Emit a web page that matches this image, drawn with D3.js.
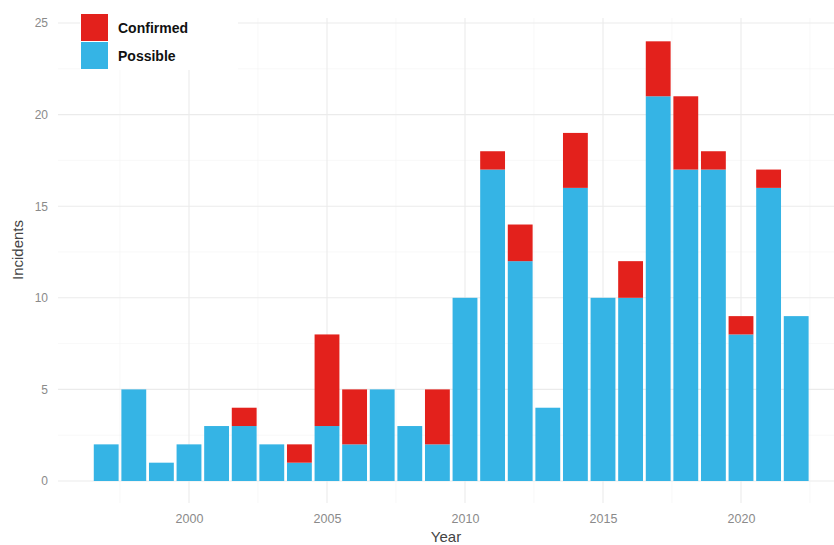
<!DOCTYPE html>
<html><head><meta charset="utf-8">
<script src="https://cdn.jsdelivr.net/npm/d3@7"></script>
<style>body{margin:0;background:#fff;}svg{display:block;font-family:"Liberation Sans",Arial,sans-serif;}</style>
</head><body><svg id="c" width="834" height="545"></svg>
<script>
const years = [1997,1998,1999,2000,2001,2002,2003,2004,2005,2006,2007,2008,2009,2010,2011,2012,2013,2014,2015,2016,2017,2018,2019,2020,2021,2022];
const possible = [2,5,1,2,3,3,2,1,3,2,5,3,2,10,17,12,4,16,10,10,21,17,17,8,16,9];
const confirmed = [0,0,0,0,0,1,0,1,5,3,0,0,3,0,1,2,0,3,0,2,3,4,1,1,1,0];
const yTicks = [0,5,10,15,20,25];
const xTicks = [2000,2005,2010,2015,2020];
const seriesNames = ["Confirmed","Possible"];
const colors = {Confirmed:"#e3211c", Possible:"#35b4e5"};

const svg = d3.select("#c");
const L=58, R=834, T=18, B=503;
const x = d3.scaleLinear().domain([2000,2020]).range([189,741]);
const y = d3.scaleLinear().domain([0,25]).range([481,23]);
const pitch = x(2001)-x(2000);
const bw = pitch*0.9;

// grid
const g = svg.append("g");
const minorY = d3.range(2.5,25,5);
minorY.forEach(v=>g.append("line").attr("x1",L).attr("x2",R).attr("y1",y(v)).attr("y2",y(v)).attr("stroke","#f4f4f4").attr("stroke-width",0.6));
[1997.5,2002.5,2007.5,2012.5,2017.5,2022.5].forEach(v=>g.append("line").attr("x1",x(v)).attr("x2",x(v)).attr("y1",T).attr("y2",B).attr("stroke","#f4f4f4").attr("stroke-width",0.6));
yTicks.forEach(v=>g.append("line").attr("x1",L).attr("x2",R).attr("y1",y(v)).attr("y2",y(v)).attr("stroke","#ebebeb").attr("stroke-width",1.1));
xTicks.forEach(v=>g.append("line").attr("x1",x(v)).attr("x2",x(v)).attr("y1",T).attr("y2",B).attr("stroke","#ebebeb").attr("stroke-width",1.1));

// bars
const data = years.map((yr,i)=>({year:yr, Possible:possible[i], Confirmed:confirmed[i]}));
const stack = d3.stack().keys(["Possible","Confirmed"])(data);
svg.append("g").selectAll("g").data(stack).join("g").attr("fill",d=>colors[d.key])
  .selectAll("rect").data(d=>d.filter(e=>e[1]>e[0])).join("rect")
  .attr("x",d=>x(d.data.year)-bw/2).attr("width",bw)
  .attr("y",d=>y(d[1])).attr("height",d=>y(d[0])-y(d[1]));

// axes labels
const yAxis = d3.axisLeft(y).tickValues(yTicks).tickSize(0).tickPadding(0);
const ya = svg.append("g").attr("transform","translate(48,0)").call(yAxis);
ya.select(".domain").remove();
ya.selectAll("text").attr("fill","#8a8a8a").attr("font-size",12).attr("font-family","Liberation Sans, Arial, sans-serif");
const xAxis = d3.axisBottom(x).tickValues(xTicks).tickFormat(d3.format("d")).tickSize(0).tickPadding(0);
const xa = svg.append("g").attr("transform","translate(0,514)").call(xAxis);
xa.select(".domain").remove();
xa.selectAll("text").attr("fill","#8a8a8a").attr("font-size",12.5).attr("font-family","Liberation Sans, Arial, sans-serif");

svg.append("text").attr("x",446).attr("y",542).attr("text-anchor","middle").attr("font-size",15).attr("fill","#444").text("Year");
svg.append("text").attr("transform","translate(23,250) rotate(-90)").attr("text-anchor","middle").attr("font-size",15).attr("fill","#444").text("Incidents");

// legend
const lg = svg.append("g");
lg.append("rect").attr("x",80).attr("y",12).attr("width",158).attr("height",58).attr("fill","#fff");
seriesNames.forEach((s,i)=>{
  lg.append("rect").attr("x",81).attr("y",14+i*28).attr("width",27).attr("height",27).attr("fill",colors[s]);
  lg.append("text").attr("x",118).attr("y",33+i*28).attr("font-size",14).attr("font-weight","bold").attr("fill","#111").text(s);
});
</script></body></html>
